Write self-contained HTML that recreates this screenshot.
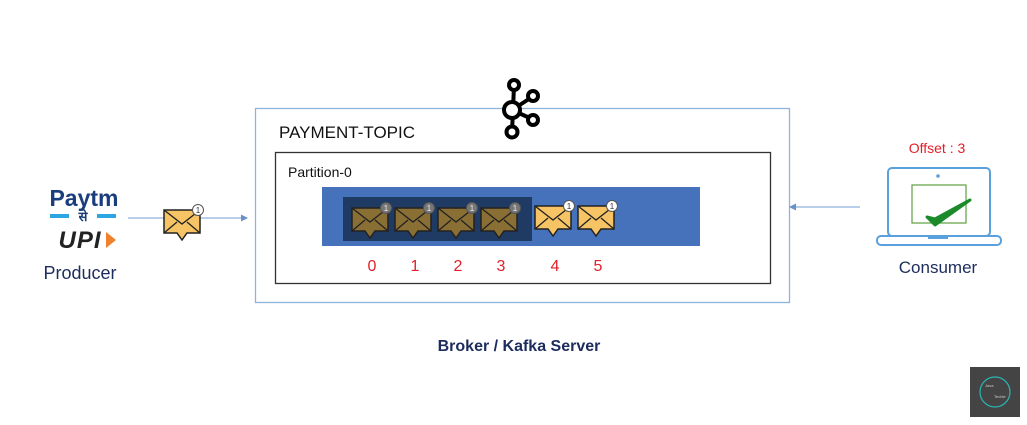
<!DOCTYPE html>
<html><head><meta charset="utf-8"><style>
body{margin:0;width:1027px;height:420px;background:#fff;overflow:hidden;font-family:"Liberation Sans","Noto Sans CJK SC",sans-serif}
</style></head><body>
<svg width="1027" height="420" viewBox="0 0 1027 420" xmlns="http://www.w3.org/2000/svg">
<defs>
<g id="env">
<path d="M-18,-12 h36 v23 h-13 l-5,7 l-5,-7 h-13 z" stroke="#222" stroke-width="1.5"/>
<path d="M-18,-12 L0,2 L18,-12 M-18,11 L-5,0 M18,11 L5,0" fill="none" stroke="#222" stroke-width="1.3"/>
</g>
</defs>
<g>
<text x="84" y="206" text-anchor="middle" font-size="23" font-weight="bold" fill="#1a3d7c">Paytm</text>
<rect x="50" y="214" width="19" height="4" fill="#2aa7e0"/><rect x="97" y="214" width="19" height="4" fill="#2aa7e0"/>
<text x="83" y="221" text-anchor="middle" font-size="13" font-weight="bold" fill="#1a3d7c" font-family="DejaVu Sans,sans-serif">से</text>
<text x="80" y="248" text-anchor="middle" font-size="24" font-style="italic" font-weight="bold" fill="#222" letter-spacing="1">UPI</text>
<path d="M106,232 l10,8 l-10,8 z" fill="#f0812a"/>
</g>
<text x="80" y="279" text-anchor="middle" font-size="18" fill="#1c2c5c">Producer</text>
<g><line x1="128" y1="218" x2="242" y2="218" stroke="#8fb0dc" stroke-width="1.3"/><path d="M248,218 l-7,-3.5 v7 z" fill="#6a90c8"/></g>
<g transform="translate(182,222)"><use href="#env" fill="#f7c465"/><circle cx="16" cy="-12" r="5.5" fill="#fff" stroke="#555"/><text x="16" y="-9" font-size="8" text-anchor="middle" fill="#333">1</text></g>
<rect x="255.5" y="108.5" width="534" height="194" fill="none" stroke="#8fb4dc" stroke-width="1.3"/>
<text x="279" y="138" font-size="17" fill="#111">PAYMENT-TOPIC</text>
<g fill="#fff" stroke="#000" stroke-width="4">
<line x1="514" y1="86" x2="512" y2="132"/><line x1="512" y1="110" x2="532" y2="97"/><line x1="512" y1="110" x2="532" y2="119"/>
<circle cx="514" cy="85" r="5"/><circle cx="512" cy="110" r="8"/><circle cx="512" cy="132" r="5.5"/><circle cx="533" cy="96" r="5"/><circle cx="533" cy="120" r="5"/>
</g>
<rect x="275.5" y="152.5" width="495" height="131" fill="none" stroke="#333" stroke-width="1.3"/>
<text x="288" y="177" font-size="14" fill="#111">Partition-0</text>
<rect x="322" y="187" width="378" height="59" fill="#4572bb"/>
<rect x="343" y="197" width="189" height="44" fill="#1f3a63"/>
<g id="msgs"></g>
<text x="937" y="153" text-anchor="middle" font-size="14" fill="#e0202a">Offset : 3</text>
<g>
<rect x="888" y="168" width="102" height="68" rx="4" fill="#fff" stroke="#5aa0dc" stroke-width="2"/>
<circle cx="938" cy="176" r="1.8" fill="#5aa0dc"/>
<rect x="912" y="185" width="54" height="38" fill="none" stroke="#6aa84f" stroke-width="1.3"/>
<path d="M927,217 l8,8 l35,-25 l-35,19 z" fill="#1a8a2a" stroke="#1a8a2a" stroke-width="3" stroke-linejoin="round"/>
<rect x="877" y="236" width="124" height="9" rx="4" fill="#fff" stroke="#5aa0dc" stroke-width="2"/>
<rect x="928" y="236" width="20" height="3" fill="#5aa0dc"/>
</g>
<text x="938" y="273" text-anchor="middle" font-size="17" fill="#1c2c5c">Consumer</text>
<g><line x1="795" y1="207" x2="860" y2="207" stroke="#8fb0dc" stroke-width="1.3"/><path d="M789,207 l7,-3.5 v7 z" fill="#6a90c8"/></g>
<text x="519" y="351" text-anchor="middle" font-size="16" font-weight="bold" fill="#1c2c5c">Broker / Kafka Server</text>
<g>
<rect x="970" y="367" width="50" height="50" fill="#444"/>
<circle cx="995" cy="392" r="15" fill="none" stroke="#2bb5b5" stroke-width="1.2"/>
<text x="985" y="387" font-size="4" fill="#ccc">Java</text><text x="994" y="398" font-size="4" fill="#ccc">Techie</text>
</g>
</svg>
<script>
const offsets=[0,1,2,3,4,5];
const consumedUpTo=3;
const g=document.getElementById('msgs');
const NS='http://www.w3.org/2000/svg';
const xAt=i=>[370,413,456,499,553,596][i];
offsets.forEach((o,i)=>{
  const c=o<=consumedUpTo;
  const m=document.createElementNS(NS,'g');
  m.setAttribute('transform',`translate(${xAt(i)},${c?220:218})`);
  
  
  m.innerHTML=`<use href="#env" fill="${c?'#8a6f35':'#f7c465'}"/><circle cx="16" cy="-12" r="5.5" fill="${c?'#777':'#fff'}" stroke="#555"/><text x="16" y="-9" font-size="8" text-anchor="middle" fill="${c?'#eee':'#333'}">1</text>`;
  g.appendChild(m);
  const t=document.createElementNS(NS,'text');
  t.setAttribute('x',xAt(i)+2);t.setAttribute('y',271);
  t.setAttribute('text-anchor','middle');t.setAttribute('font-size','16');t.setAttribute('fill','#e0202a');
  
  
  t.textContent=o;
  g.appendChild(t);
});
</script>
</body></html>
